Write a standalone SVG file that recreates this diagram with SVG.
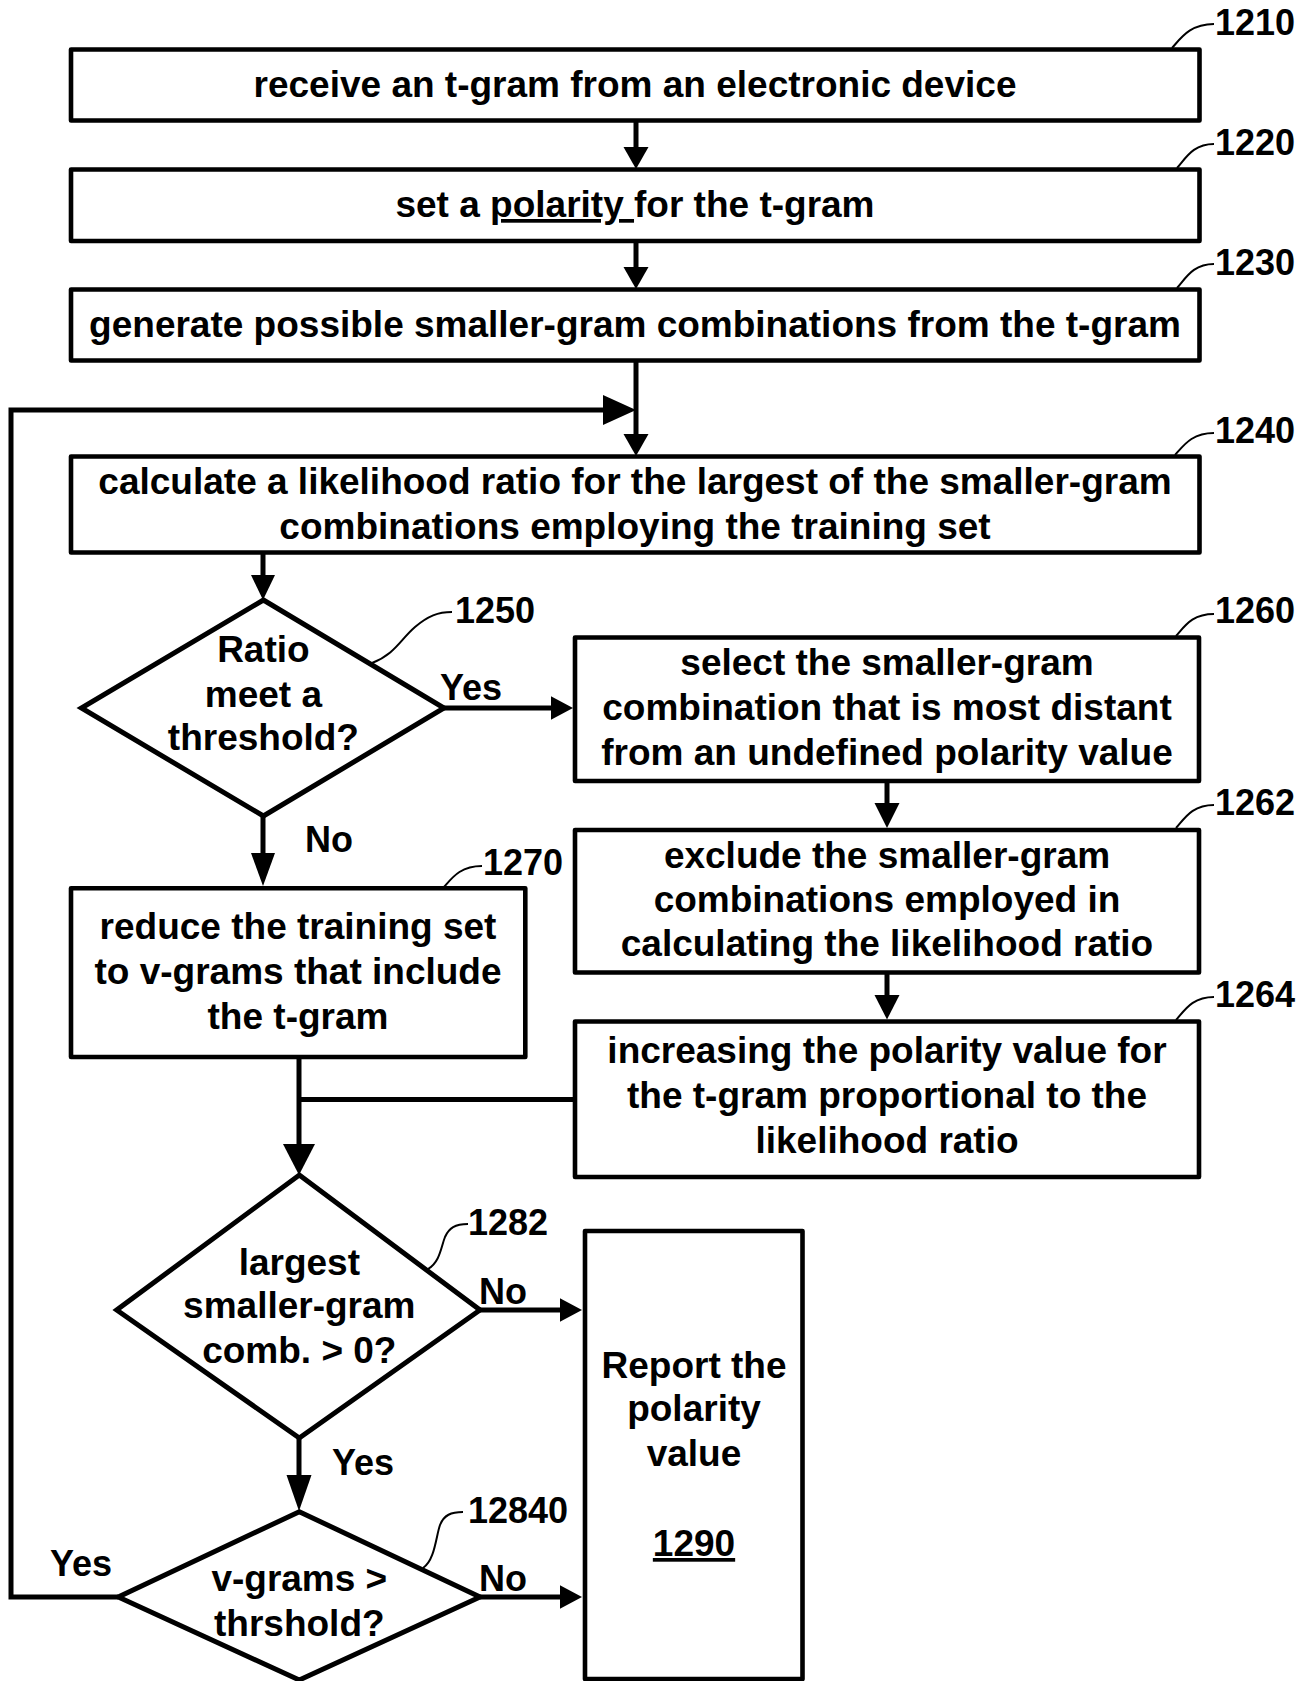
<svg xmlns="http://www.w3.org/2000/svg" width="1313" height="1681" viewBox="0 0 1313 1681">
<style>
.box{fill:#fff;stroke:#000;stroke-width:4.6;stroke-linejoin:round}
.dia{fill:#fff;stroke:#000;stroke-width:5;stroke-linejoin:miter}
.ln{fill:none;stroke:#000;stroke-width:5}
.lead{fill:none;stroke:#000;stroke-width:2}
.ah{fill:#000;stroke:none}
.t{font-family:"Liberation Sans",Arial,sans-serif;font-weight:bold;font-size:37px;fill:#000;text-anchor:middle}
.lb{font-family:"Liberation Sans",Arial,sans-serif;font-weight:bold;font-size:36px;fill:#000}
.u{text-decoration:underline}
</style>
<rect width="1313" height="1681" fill="#fff"/>

<g id="connectors">
  <line class="ln" x1="636" y1="120" x2="636" y2="150"/>
  <polygon class="ah" points="623.5,147 648.5,147 636,169"/>
  <line class="ln" x1="636" y1="241" x2="636" y2="270"/>
  <polygon class="ah" points="623.5,267 648.5,267 636,289"/>
  <line class="ln" x1="636" y1="360" x2="636" y2="437"/>
  <polygon class="ah" points="623.5,434 648.5,434 636,456"/>
  <polyline class="ln" points="118,1597 11,1597 11,410 606,410"/>
  <polygon class="ah" points="603,395 603,425 636,410"/>
  <line class="ln" x1="263" y1="552" x2="263" y2="578"/>
  <polygon class="ah" points="251,575 275,575 263,600"/>
  <line class="ln" x1="444" y1="708" x2="554" y2="708"/>
  <polygon class="ah" points="551,696.3 551,719.7 573,708"/>
  <line class="ln" x1="887" y1="781" x2="887" y2="806"/>
  <polygon class="ah" points="874.5,803 899.5,803 887,828"/>
  <line class="ln" x1="887" y1="972.5" x2="887" y2="997"/>
  <polygon class="ah" points="874.5,995 899.5,995 887,1019.5"/>
  <line class="ln" x1="263" y1="816" x2="263" y2="856"/>
  <polygon class="ah" points="251,853 275,853 263,886"/>
  <line class="ln" x1="299" y1="1057" x2="299" y2="1147"/>
  <line class="ln" x1="299" y1="1099.5" x2="575" y2="1099.5"/>
  <polygon class="ah" points="283,1144 315,1144 299,1175"/>
  <line class="ln" x1="480" y1="1310" x2="563" y2="1310"/>
  <polygon class="ah" points="560,1298.3 560,1321.7 582,1310"/>
  <line class="ln" x1="299" y1="1438" x2="299" y2="1478"/>
  <polygon class="ah" points="286.5,1475 311.5,1475 299,1511"/>
  <line class="ln" x1="480" y1="1597" x2="563" y2="1597"/>
  <polygon class="ah" points="560,1585.3 560,1608.7 582,1597"/>
  <text class="lb" x="440" y="700">Yes</text>
  <text class="lb" x="305" y="852">No</text>
  <text class="lb" x="479" y="1304">No</text>
  <text class="lb" x="332" y="1475">Yes</text>
  <text class="lb" x="479" y="1591">No</text>
  <text class="lb" x="50" y="1576">Yes</text>
</g>

<g id="n1210">
  <rect class="box" x="71" y="49.5" width="1128.5" height="71"/>
  <text class="t" x="635" y="97">receive an t-gram from an electronic device</text>
  <path class="lead" d="M1172,48 C1181,38 1190,24 1214,24"/>
  <text class="lb" x="1215" y="35">1210</text>
</g>

<g id="n1220">
  <rect class="box" x="71" y="169.5" width="1128.5" height="71.5"/>
  <text class="t" x="635" y="217">set a <tspan class="u">polarity </tspan>for the t-gram</text>
  <path class="lead" d="M1177,168 C1186,158 1193,144 1214,144"/>
  <text class="lb" x="1215" y="155">1220</text>
</g>

<g id="n1230">
  <rect class="box" x="71" y="289.5" width="1128.5" height="71"/>
  <text class="t" x="635" y="337">generate possible smaller-gram combinations from the t-gram</text>
  <path class="lead" d="M1177,288 C1186,278 1193,264 1214,264"/>
  <text class="lb" x="1215" y="275">1230</text>
</g>

<g id="n1240">
  <rect class="box" x="71" y="456.5" width="1128.5" height="96"/>
  <text class="t" x="635" y="494">calculate a likelihood ratio for the largest of the smaller-gram</text>
  <text class="t" x="635" y="539">combinations employing the training set</text>
  <path class="lead" d="M1175,455 C1184,445 1192,433 1214,433"/>
  <text class="lb" x="1215" y="443">1240</text>
</g>

<g id="n1250">
  <polygon class="dia" points="263.4,600 444,708 263.4,816 81.4,708"/>
  <text class="t" x="263.4" y="662">Ratio</text>
  <text class="t" x="263.4" y="707">meet a</text>
  <text class="t" x="263.4" y="750">threshold?</text>
  <path class="lead" d="M372,663 C395,654 400,640 415,627 C428,616 438,612 452,612"/>
  <text class="lb" x="455" y="623">1250</text>
</g>

<g id="n1260">
  <rect class="box" x="575" y="637.5" width="624" height="143.5"/>
  <text class="t" x="887" y="675">select the smaller-gram</text>
  <text class="t" x="887" y="720">combination that is most distant</text>
  <text class="t" x="887" y="765">from an undefined polarity value</text>
  <path class="lead" d="M1176,636 C1185,626 1192,614 1214,614"/>
  <text class="lb" x="1215" y="623">1260</text>
</g>

<g id="n1262">
  <rect class="box" x="575" y="830" width="624" height="142.5"/>
  <text class="t" x="887" y="868">exclude the smaller-gram</text>
  <text class="t" x="887" y="912">combinations employed in</text>
  <text class="t" x="887" y="956">calculating the likelihood ratio</text>
  <path class="lead" d="M1176,828 C1185,818 1192,805 1214,805"/>
  <text class="lb" x="1215" y="815">1262</text>
</g>

<g id="n1264">
  <rect class="box" x="575" y="1021.5" width="624" height="155.5"/>
  <text class="t" x="887" y="1063">increasing the polarity value for</text>
  <text class="t" x="887" y="1108">the t-gram proportional to the</text>
  <text class="t" x="887" y="1153">likelihood ratio</text>
  <path class="lead" d="M1176,1020 C1185,1010 1192,997 1214,997"/>
  <text class="lb" x="1215" y="1007">1264</text>
</g>

<g id="n1270">
  <rect class="box" x="71" y="888.3" width="454.3" height="168.7"/>
  <text class="t" x="298" y="939">reduce the training set</text>
  <text class="t" x="298" y="984">to v-grams that include</text>
  <text class="t" x="298" y="1029">the t-gram</text>
  <path class="lead" d="M444,887 C452,878 460,866 482,866"/>
  <text class="lb" x="483" y="875">1270</text>
</g>

<g id="n1282">
  <polygon class="dia" points="299.3,1175 480,1310 299.3,1438 116.7,1310"/>
  <text class="t" x="299.3" y="1275">largest</text>
  <text class="t" x="299.3" y="1318">smaller-gram</text>
  <text class="t" x="299.3" y="1363">comb. &gt; 0?</text>
  <path class="lead" d="M428,1269 C440,1262 441,1247 445,1237 C449,1228 455,1224 468,1224"/>
  <text class="lb" x="468" y="1235">1282</text>
</g>

<g id="n12840">
  <polygon class="dia" points="299.3,1511.7 480,1597 299.3,1680 118.3,1597"/>
  <text class="t" x="299.3" y="1591">v-grams &gt;</text>
  <text class="t" x="299.3" y="1636">thrshold?</text>
  <path class="lead" d="M423,1568 C435,1560 436,1536 440,1525 C444,1515 451,1512 463,1512"/>
  <text class="lb" x="468" y="1523">12840</text>
</g>

<g id="n1290">
  <rect class="box" x="585" y="1231" width="217.5" height="448"/>
  <text class="t" x="694" y="1378">Report the</text>
  <text class="t" x="694" y="1421">polarity</text>
  <text class="t" x="694" y="1466">value</text>
  <text class="t u" x="694" y="1556">1290</text>
</g>
</svg>
